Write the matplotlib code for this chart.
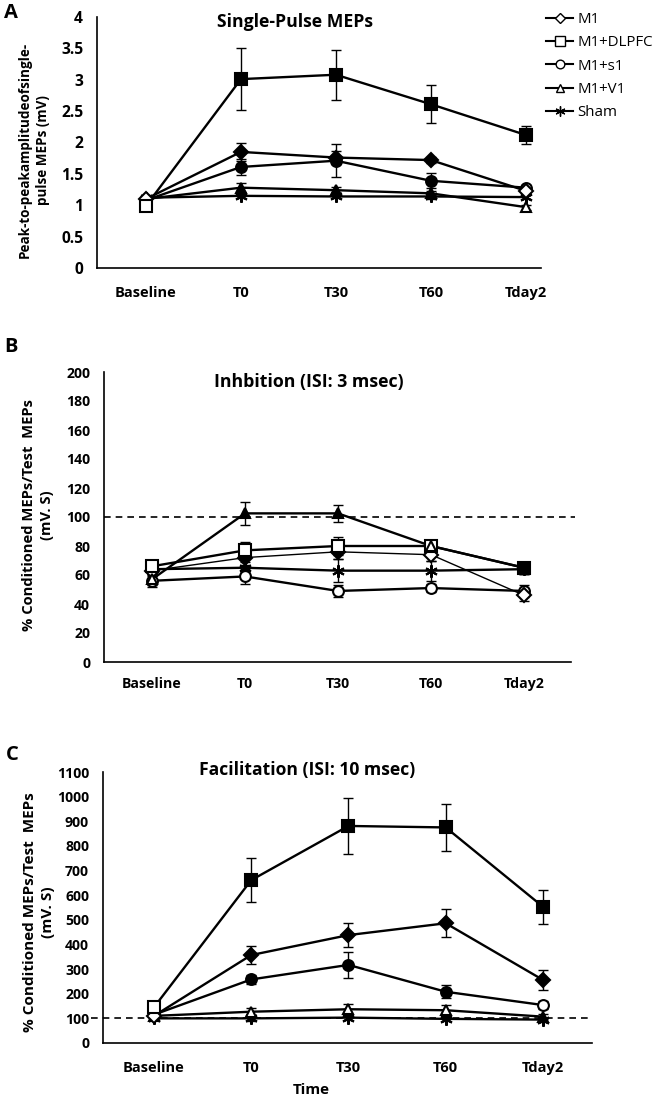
import matplotlib
matplotlib.use('Agg')
import matplotlib.pyplot as plt
from matplotlib.lines import Line2D
from matplotlib.ticker import FuncFormatter

plt.rcParams['font.family'] = ['Open Sans', 'DejaVu Sans']

timepoints = ['Baseline', 'T0', 'T30', 'T60', 'Tday2']
groups = ['M1', 'M1+DLPFC', 'M1+s1', 'M1+V1', 'Sham']

# ---------- Panel A: single-pulse MEPs (mV) ----------
a_m1 = [1.10, 1.85, 1.76, 1.72, 1.23]
a_dlpfc = [0.99, 3.01, 3.08, 2.61, 2.12]
a_s1 = [1.08, 1.61, 1.71, 1.39, 1.28]
a_v1 = [1.10, 1.28, 1.24, 1.19, 0.97]
a_sham = [1.12, 1.15, 1.14, 1.14, 1.13]
a_m1_err = [0.03, 0.14, 0.10, 0.05, 0.05]
a_dlpfc_err = [0.03, 0.50, 0.40, 0.30, 0.15]
a_s1_err = [0.03, 0.13, 0.26, 0.12, 0.05]
a_v1_err = [0.03, 0.07, 0.05, 0.03, 0.04]
a_sham_err = [0.02, 0.03, 0.03, 0.04, 0.03]
a_m1_sig = [False, True, True, True, False]
a_dlpfc_sig = [False, True, True, True, True]
a_s1_sig = [False, True, True, True, False]
a_v1_sig = [False, True, True, True, False]

# ---------- Panel B: inhibition (ISI 3 ms) ----------
b_m1 = [63, 72, 76, 74, 46]
b_dlpfc = [66, 77, 80, 80, 65]
b_s1 = [56, 59, 49, 51, 49]
b_v1 = [57, 102.5, 102.5, 80, 65]
b_sham = [64, 65, 63, 63, 64]
b_m1_err = [4, 5, 5, 4, 4]
b_dlpfc_err = [4, 6, 6, 4, 4]
b_s1_err = [4, 5, 4, 3, 4]
b_v1_err = [4, 8, 6, 4, 4]
b_sham_err = [3, 4, 8, 7, 3]
b_m1_sig = [False, True, True, False, False]
b_dlpfc_sig = [False, False, False, False, True]
b_s1_sig = [False, False, False, False, False]
b_v1_sig = [False, True, True, False, True]

# ---------- Panel C: facilitation (ISI 10 ms) ----------
c_m1 = [110, 357, 438, 486, 256]
c_dlpfc = [145, 661, 881, 875, 553]
c_s1 = [115, 258, 317, 208, 154]
c_v1 = [110, 127, 137, 133, 107]
c_sham = [100, 100, 103, 98, 95]
c_m1_err = [10, 38, 48, 57, 40]
c_dlpfc_err = [15, 88, 115, 95, 70]
c_s1_err = [10, 20, 54, 27, 15]
c_v1_err = [10, 15, 20, 20, 10]
c_sham_err = [8, 10, 10, 10, 8]
c_m1_sig = [False, True, True, True, True]
c_dlpfc_sig = [False, True, True, True, True]
c_s1_sig = [False, True, True, True, False]
c_v1_sig = [False, False, False, False, True]

reference_level = 100

W, H = 669, 1102
fig = plt.figure(figsize=(W / 100, H / 100), dpi=100)
renderer = fig.canvas.get_renderer()


def fitted_size(s, target_px, weight='bold', base=10.0):
    t = fig.text(0, 0, s, fontsize=base, fontweight=weight)
    w = t.get_window_extent(renderer=renderer).width
    t.remove()
    return base * target_px / w


def px_axes(left, top, right, bottom):
    return fig.add_axes([left / W, 1 - bottom / H, (right - left) / W, (bottom - top) / H])


markers = {'M1': 'D', 'M1+DLPFC': 's', 'M1+s1': 'o', 'M1+V1': '^', 'Sham': (6, 2, 0)}
msizes = {'M1': 7, 'M1+DLPFC': 8.2, 'M1+s1': 7.8, 'M1+V1': 7.8, 'Sham': 9}


def draw(ax, name, vals, errs, sig, lw=1.7):
    x = list(range(len(timepoints)))
    ax.errorbar(x, vals, yerr=errs, fmt='none', ecolor='k', elinewidth=1.0,
                capsize=3.8, capthick=1.0, zorder=2)
    ax.plot(x, vals, color='k', lw=lw, zorder=3)
    for i, (xi, vi) in enumerate(zip(x, vals)):
        filled = sig[i] if sig is not None else False
        ax.plot([xi], [vi], marker=markers[name], ms=msizes[name],
                mfc='k' if filled else 'white', mec='k', mew=1.5, zorder=4,
                linestyle='none')


def style(ax, ylim, yticks, xlim, ytick_fs, xtick_fs, xpad):
    ax.set_xlim(*xlim)
    ax.set_ylim(*ylim)
    ax.set_yticks(yticks)
    ax.yaxis.set_major_formatter(FuncFormatter(lambda v, p: '{:g}'.format(v)))
    ax.set_xticks(range(len(timepoints)))
    ax.set_xticklabels(timepoints)
    for s in ['top', 'right']:
        ax.spines[s].set_visible(False)
    for s in ['left', 'bottom']:
        ax.spines[s].set_linewidth(1.2)
    ax.tick_params(axis='y', length=0, pad=10, labelsize=ytick_fs)
    ax.tick_params(axis='x', length=0, pad=xpad, labelsize=xtick_fs)
    for lab in ax.get_xticklabels() + ax.get_yticklabels():
        lab.set_fontweight('bold')


# Panel A
axA = px_axes(97, 17, 541, 268)
draw(axA, 'Sham', a_sham, a_sham_err, None)
draw(axA, 'M1+V1', a_v1, a_v1_err, a_v1_sig)
draw(axA, 'M1+s1', a_s1, a_s1_err, a_s1_sig)
draw(axA, 'M1', a_m1, a_m1_err, a_m1_sig)
draw(axA, 'M1+DLPFC', a_dlpfc, a_dlpfc_err, a_dlpfc_sig)
style(axA, (0, 4), [0, 0.5, 1, 1.5, 2, 2.5, 3, 3.5, 4], (-0.516, 4.16),
      fitted_size('3.5', 22), fitted_size('Baseline', 62), 13)

# Panel B
axB = px_axes(104, 372, 571, 662)
axB.plot([-0.516, 4.55], [reference_level, reference_level], color='k', lw=1.2,
         ls=(0, (4, 3)), zorder=1, clip_on=False)
draw(axB, 'Sham', b_sham, b_sham_err, None)
draw(axB, 'M1+s1', b_s1, b_s1_err, b_s1_sig)
draw(axB, 'M1', b_m1, b_m1_err, b_m1_sig, lw=1.0)
draw(axB, 'M1+DLPFC', b_dlpfc, b_dlpfc_err, b_dlpfc_sig)
draw(axB, 'M1+V1', b_v1, b_v1_err, b_v1_sig)
style(axB, (0, 200), list(range(0, 201, 20)), (-0.516, 4.505),
      fitted_size('200', 24), fitted_size('Baseline', 60), 11)

# Panel C
axC = px_axes(103, 772, 592, 1043)
axC.plot([-0.65, 4.5], [reference_level, reference_level], color='k', lw=1.2,
         ls=(0, (4, 3)), zorder=1, clip_on=False)
draw(axC, 'Sham', c_sham, c_sham_err, None)
draw(axC, 'M1+V1', c_v1, c_v1_err, c_v1_sig)
draw(axC, 'M1+s1', c_s1, c_s1_err, c_s1_sig)
draw(axC, 'M1', c_m1, c_m1_err, c_m1_sig)
draw(axC, 'M1+DLPFC', c_dlpfc, c_dlpfc_err, c_dlpfc_sig)
style(axC, (0, 1100), list(range(0, 1101, 100)), (-0.524, 4.504),
      fitted_size('1100', 32), fitted_size('Baseline', 62), 13)


def ftext(x, y, s, **kw):
    return fig.text(x / W, 1 - y / H, s, **kw)


# Titles
titles = [(295, 22, 'Single-Pulse MEPs', 157),
          (309, 382, 'Inhbition (ISI: 3 msec)', 190),
          (307, 770, 'Facilitation (ISI: 10 msec)', 216)]
for x, y, s, w in titles:
    ftext(x, y, s, ha='center', va='center', fontsize=fitted_size(s, w), fontweight='bold')

# Y labels
ylab_a1 = 'Peak-to-peakamplitudeofsingle-'
ylab_bc1 = '% Conditioned MEPs/Test  MEPs'
ftext(34, 150, ylab_a1 + '\npulse MEPs (mV)', rotation=90, ha='center',
      va='center', fontsize=fitted_size(ylab_a1, 217), fontweight='bold',
      linespacing=1.4, multialignment='center')
ftext(38, 515, ylab_bc1 + '\n(mV. S)', rotation=90, ha='center',
      va='center', fontsize=fitted_size(ylab_bc1, 233), fontweight='bold',
      linespacing=1.3, multialignment='center')
ftext(39, 912, ylab_bc1 + '\n(mV. S)', rotation=90, ha='center',
      va='center', fontsize=fitted_size(ylab_bc1, 240), fontweight='bold',
      linespacing=1.3, multialignment='center')

# X label
ftext(311, 1090, 'Time', ha='center', va='center', fontsize=fitted_size('Time', 37),
      fontweight='bold')

# Panel letters
let_fs = fitted_size('A', 14)
ftext(11, 13, 'A', ha='center', va='center', fontsize=let_fs, fontweight='bold')
ftext(11, 347, 'B', ha='center', va='center', fontsize=let_fs, fontweight='bold')
ftext(12, 755, 'C', ha='center', va='center', fontsize=let_fs, fontweight='bold')

# Legend
leg_fs = fitted_size('M1+DLPFC', 76, weight='normal')
handles = [Line2D([0], [0], color='k', lw=1.5, marker=markers[g], ms=msizes[g] * 0.8,
                  mfc='white', mec='k', mew=1.0) for g in groups]
fig.legend(handles, groups, loc='upper left', bbox_to_anchor=(546 / W, 1 - 12 / H),
           frameon=False, fontsize=leg_fs, handlelength=1.8, handletextpad=0.3,
           labelspacing=0.55, borderpad=0, borderaxespad=0)

fig.savefig('out.png', dpi=100)
